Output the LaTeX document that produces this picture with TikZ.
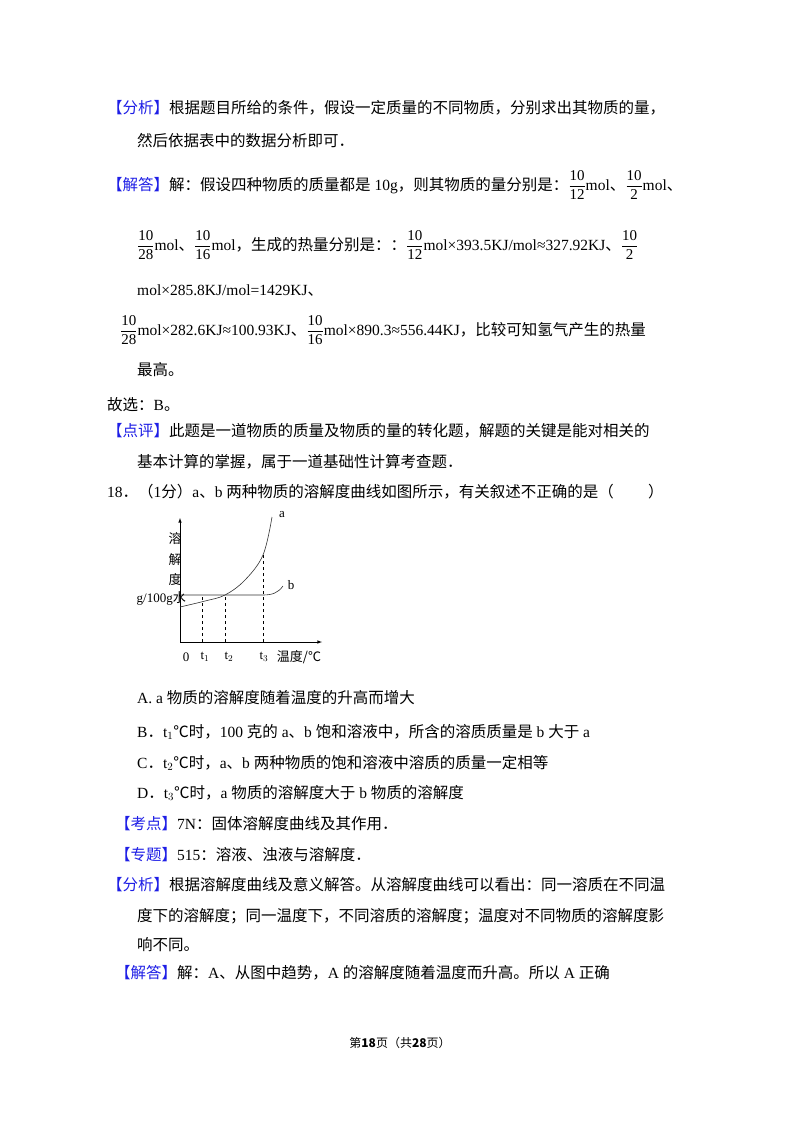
\documentclass[tikz,border=0pt]{standalone}
\usepackage{amsmath}
\usepackage{fontspec}
\setmainfont{Noto Sans CJK SC}
\newfontfamily\lat{Liberation Serif}
\newfontfamily\pagefont{Noto Sans CJK SC}
\newcommand\en[1]{{\lat #1}}
\newcommand\fr[2]{$\genfrac{}{}{0.5pt}{0}{\text{\lat\fontsize{15}{16}\selectfont #1}}{\text{\lat\fontsize{15}{16}\selectfont #2}}$}
\definecolor{tagblue}{RGB}{30,30,230}
\newcommand\headtag[1]{\textcolor{tagblue}{【#1】}}
\tikzset{
  txt/.style={anchor=base west, inner sep=0pt, font=\fontsize{15.5}{18}\selectfont},
  lbl/.style={inner sep=0pt, font=\fontsize{13}{15}\selectfont},
  curve/.style={line width=0.6pt, black!80},
  guide/.style={dashed, line width=0.6pt}
}
\begin{document}
\begin{tikzpicture}[x=1pt,y=-1pt]
\useasboundingbox[fill=white] (0,0) rectangle (800,1132);

% Analyse und Loesung
\node[txt] (f1) at (107,113) {\headtag{分析}根据题目所给的条件，假设一定质量的不同物质，分别求出其物质的量，};
\node[txt] (f2) at (137,146) {然后依据表中的数据分析即可．};
\node[txt] (j1) at (107,190) {\headtag{解答}解：假设四种物质的质量都是\en{ 10g}，则其物质的量分别是：\fr{10}{12}\en{mol}、\fr{10}{2}\en{mol}、};
\node[txt] (j2) at (137,250) {\fr{10}{28}\en{mol}、\fr{10}{16}\en{mol}，生成的热量分别是：：\fr{10}{12}\en{mol×393.5KJ/mol≈327.92KJ}、\fr{10}{2}};
\node[txt] (j3) at (137,295) {\en{mol×285.8KJ/mol=1429KJ}、};
\node[txt] (j4) at (120,335) {\fr{10}{28}\en{mol×282.6KJ≈100.93KJ}、\fr{10}{16}\en{mol×890.3≈556.44KJ}，比较可知氢气产生的热量};
\node[txt] (j5) at (137,375) {最高。};
\node[txt] (gx) at (107,410) {故选：\en{B}。};
\node[txt] (d1) at (107,436) {\headtag{点评}此题是一道物质的质量及物质的量的转化题，解题的关键是能对相关的};
\node[txt] (d2) at (137,467) {基本计算的掌握，属于一道基础性计算考查题．};
\node[txt] (q) at (107,497) {\en{18}．（\en{1}分）\en{a}、\en{b }两种物质的溶解度曲线如图所示，有关叙述不正确的是（\hspace{2.2em}）};

% Diagramm
\coordinate (o) at (180,642);
\coordinate (ytop) at (180,518);
\coordinate (xend) at (322,642);
\draw[line width=0.6pt,-latex] (o) -- (ytop);
\draw[line width=0.6pt,-latex] (o) -- (xend);
\draw[curve] (180,595) -- (263,595) .. controls (272,595) and (278,593) .. (283,586);
\draw[curve] plot[smooth,tension=0.6] coordinates {(180,607) (205,601) (225,595) (245,580) (263,555) (272,517)};
\draw[guide] (202,642) -- (202,595);
\draw[guide] (225,642) -- (225,595);
\draw[guide] (263,642) -- (263,555);
\node[lbl] (la) at (282,515) {\en{a}};
\node[lbl] (lb) at (291,585) {\en{b}};
\node[lbl] (rd) at (175,539) {溶};
\node[lbl] (jie) at (175,560) {解};
\node[lbl] (du) at (175,580) {度};
\node[lbl,anchor=east] (unit) at (186,598) {\en{g/100g}水};
\node[lbl] (t0) at (186,657) {\en{0}};
\node[lbl] (t1) at (205,657) {\en{t$_1$}};
\node[lbl] (t2) at (229,657) {\en{t$_2$}};
\node[lbl] (t3) at (264,657) {\en{t$_3$}};
\node[lbl] (xl) at (299,657) {温度/℃};

% Antworten
\node[txt] (a) at (137,703) {\en{A. a }物质的溶解度随着温度的升高而增大};
\node[txt] (b) at (137,737) {\en{B}．\en{t$_1$}℃时，\en{100 }克的\en{ a}、\en{b }饱和溶液中，所含的溶质质量是\en{ b }大于\en{ a}};
\node[txt] (c) at (137,768) {\en{C}．\en{t$_2$}℃时，\en{a}、\en{b }两种物质的饱和溶液中溶质的质量一定相等};
\node[txt] (d) at (137,798) {\en{D}．\en{t$_3$}℃时，\en{a }物质的溶解度大于\en{ b }物质的溶解度};
\node[txt] (kd) at (115,829) {\headtag{考点}\en{7N}：固体溶解度曲线及其作用．};
\node[txt] (zt) at (115,860) {\headtag{专题}\en{515}：溶液、浊液与溶解度．};
\node[txt] (g1) at (107,890) {\headtag{分析}根据溶解度曲线及意义解答。从溶解度曲线可以看出：同一溶质在不同温};
\node[txt] (g2) at (137,921) {度下的溶解度；同一温度下，不同溶质的溶解度；温度对不同物质的溶解度影};
\node[txt] (g3) at (137,950) {响不同。};
\node[txt] (h1) at (115,978) {\headtag{解答}解：\en{A}、从图中趋势，\en{A }的溶解度随着温度而升高。所以\en{ A }正确};

% Seitenzahl
\node[inner sep=0pt, font=\pagefont\fontsize{12}{14}\selectfont] (page) at (400,1043) {第\textbf{18}页（共\textbf{28}页）};
\end{tikzpicture}
\end{document}
